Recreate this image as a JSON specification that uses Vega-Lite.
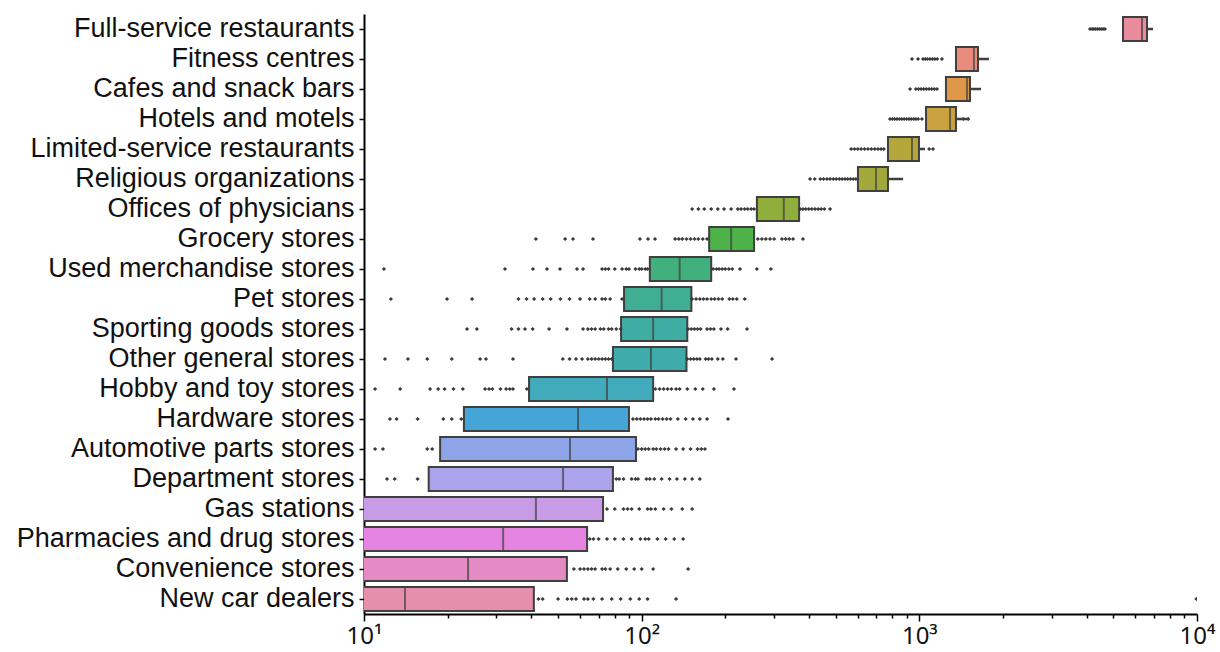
{
  "$schema": "https://vega.github.io/schema/vega-lite/v6.json",
  "width": 833,
  "height": 600,
  "autosize": {"type": "none"},
  "padding": {"left": 364, "top": 14, "right": 23, "bottom": 38},
  "background": "white",
  "config": {"view": {"stroke": null}, "font": "Liberation Sans"},
  "resolve": {"axis": {"x": "independent"}},
  "datasets": {
    "boxes": [
      {"cat": "Full-service restaurants", "lo": 5414, "q1": 5414, "med": 6338, "q3": 6606, "hi": 6943},
      {"cat": "Fitness centres", "lo": 1355, "q1": 1355, "med": 1573, "q3": 1627, "hi": 1781},
      {"cat": "Cafes and snack bars", "lo": 1247, "q1": 1247, "med": 1485, "q3": 1522, "hi": 1668},
      {"cat": "Hotels and motels", "lo": 1057, "q1": 1057, "med": 1290, "q3": 1355, "hi": 1509},
      {"cat": "Limited-service restaurants", "lo": 771, "q1": 771, "med": 941, "q3": 997, "hi": 1048},
      {"cat": "Religious organizations", "lo": 601, "q1": 601, "med": 698, "q3": 771, "hi": 874},
      {"cat": "Offices of physicians", "lo": 260, "q1": 260, "med": 325, "q3": 369, "hi": 369},
      {"cat": "Grocery stores", "lo": 175, "q1": 175, "med": 210, "q3": 254, "hi": 254},
      {"cat": "Used merchandise stores", "lo": 107, "q1": 107, "med": 137, "q3": 178, "hi": 178},
      {"cat": "Pet stores", "lo": 86.4, "q1": 86.4, "med": 118, "q3": 151, "hi": 151},
      {"cat": "Sporting goods stores", "lo": 84.3, "q1": 84.3, "med": 110, "q3": 146, "hi": 146},
      {"cat": "Other general stores", "lo": 78.8, "q1": 78.8, "med": 108, "q3": 145, "hi": 145},
      {"cat": "Hobby and toy stores", "lo": 39.3, "q1": 39.3, "med": 75, "q3": 110, "hi": 110},
      {"cat": "Hardware stores", "lo": 22.9, "q1": 22.9, "med": 59, "q3": 90, "hi": 90},
      {"cat": "Automotive parts stores", "lo": 18.8, "q1": 18.8, "med": 55.2, "q3": 95.4, "hi": 95.4},
      {"cat": "Department stores", "lo": 17.1, "q1": 17.1, "med": 52.1, "q3": 78.8, "hi": 78.8},
      {"cat": "Gas stations", "lo": 5, "q1": 5, "med": 41.6, "q3": 72.6, "hi": 72.6},
      {"cat": "Pharmacies and drug stores", "lo": 5, "q1": 5, "med": 31.7, "q3": 63.6, "hi": 63.6},
      {"cat": "Convenience stores", "lo": 5, "q1": 5, "med": 23.7, "q3": 53.8, "hi": 53.8},
      {"cat": "New car dealers", "lo": 5, "q1": 5, "med": 14.05, "q3": 40.9, "hi": 40.9}
    ],
    "fliers": [
      {"cat": "Full-service restaurants", "v": 4120}, {"cat": "Full-service restaurants", "v": 4190}, {"cat": "Full-service restaurants", "v": 4250}, {"cat": "Full-service restaurants", "v": 4310}, {"cat": "Full-service restaurants", "v": 4380}, {"cat": "Full-service restaurants", "v": 4450}, {"cat": "Full-service restaurants", "v": 4520}, {"cat": "Full-service restaurants", "v": 4590}, {"cat": "Full-service restaurants", "v": 4660},
      {"cat": "Fitness centres", "v": 941}, {"cat": "Fitness centres", "v": 989}, {"cat": "Fitness centres", "v": 1031}, {"cat": "Fitness centres", "v": 1050}, {"cat": "Fitness centres", "v": 1070}, {"cat": "Fitness centres", "v": 1092}, {"cat": "Fitness centres", "v": 1115}, {"cat": "Fitness centres", "v": 1137}, {"cat": "Fitness centres", "v": 1160}, {"cat": "Fitness centres", "v": 1206},
      {"cat": "Cafes and snack bars", "v": 926}, {"cat": "Cafes and snack bars", "v": 972}, {"cat": "Cafes and snack bars", "v": 993}, {"cat": "Cafes and snack bars", "v": 1015}, {"cat": "Cafes and snack bars", "v": 1037}, {"cat": "Cafes and snack bars", "v": 1060}, {"cat": "Cafes and snack bars", "v": 1084}, {"cat": "Cafes and snack bars", "v": 1108}, {"cat": "Cafes and snack bars", "v": 1132}, {"cat": "Cafes and snack bars", "v": 1158},
      {"cat": "Hotels and motels", "v": 784}, {"cat": "Hotels and motels", "v": 800}, {"cat": "Hotels and motels", "v": 815}, {"cat": "Hotels and motels", "v": 831}, {"cat": "Hotels and motels", "v": 848}, {"cat": "Hotels and motels", "v": 865}, {"cat": "Hotels and motels", "v": 882}, {"cat": "Hotels and motels", "v": 900}, {"cat": "Hotels and motels", "v": 918}, {"cat": "Hotels and motels", "v": 936}, {"cat": "Hotels and motels", "v": 955}, {"cat": "Hotels and motels", "v": 972}, {"cat": "Hotels and motels", "v": 990}, {"cat": "Hotels and motels", "v": 1022}, {"cat": "Hotels and motels", "v": 1440}, {"cat": "Hotels and motels", "v": 1500},
      {"cat": "Limited-service restaurants", "v": 568}, {"cat": "Limited-service restaurants", "v": 584}, {"cat": "Limited-service restaurants", "v": 600}, {"cat": "Limited-service restaurants", "v": 617}, {"cat": "Limited-service restaurants", "v": 635}, {"cat": "Limited-service restaurants", "v": 653}, {"cat": "Limited-service restaurants", "v": 672}, {"cat": "Limited-service restaurants", "v": 691}, {"cat": "Limited-service restaurants", "v": 710}, {"cat": "Limited-service restaurants", "v": 728}, {"cat": "Limited-service restaurants", "v": 745}, {"cat": "Limited-service restaurants", "v": 1085}, {"cat": "Limited-service restaurants", "v": 1120},
      {"cat": "Religious organizations", "v": 404}, {"cat": "Religious organizations", "v": 420}, {"cat": "Religious organizations", "v": 440}, {"cat": "Religious organizations", "v": 452}, {"cat": "Religious organizations", "v": 465}, {"cat": "Religious organizations", "v": 477}, {"cat": "Religious organizations", "v": 490}, {"cat": "Religious organizations", "v": 502}, {"cat": "Religious organizations", "v": 515}, {"cat": "Religious organizations", "v": 527}, {"cat": "Religious organizations", "v": 540}, {"cat": "Religious organizations", "v": 552}, {"cat": "Religious organizations", "v": 565}, {"cat": "Religious organizations", "v": 578}, {"cat": "Religious organizations", "v": 591},
      {"cat": "Offices of physicians", "v": 152}, {"cat": "Offices of physicians", "v": 160}, {"cat": "Offices of physicians", "v": 168}, {"cat": "Offices of physicians", "v": 178}, {"cat": "Offices of physicians", "v": 188}, {"cat": "Offices of physicians", "v": 198}, {"cat": "Offices of physicians", "v": 210}, {"cat": "Offices of physicians", "v": 222}, {"cat": "Offices of physicians", "v": 228}, {"cat": "Offices of physicians", "v": 235}, {"cat": "Offices of physicians", "v": 241}, {"cat": "Offices of physicians", "v": 248}, {"cat": "Offices of physicians", "v": 254}, {"cat": "Offices of physicians", "v": 372}, {"cat": "Offices of physicians", "v": 381}, {"cat": "Offices of physicians", "v": 390}, {"cat": "Offices of physicians", "v": 400}, {"cat": "Offices of physicians", "v": 410}, {"cat": "Offices of physicians", "v": 421}, {"cat": "Offices of physicians", "v": 432}, {"cat": "Offices of physicians", "v": 443}, {"cat": "Offices of physicians", "v": 455}, {"cat": "Offices of physicians", "v": 477},
      {"cat": "Grocery stores", "v": 41.6}, {"cat": "Grocery stores", "v": 53}, {"cat": "Grocery stores", "v": 56.6}, {"cat": "Grocery stores", "v": 66.8}, {"cat": "Grocery stores", "v": 98.6}, {"cat": "Grocery stores", "v": 105.4}, {"cat": "Grocery stores", "v": 111.7}, {"cat": "Grocery stores", "v": 132}, {"cat": "Grocery stores", "v": 136}, {"cat": "Grocery stores", "v": 140}, {"cat": "Grocery stores", "v": 145}, {"cat": "Grocery stores", "v": 150}, {"cat": "Grocery stores", "v": 155}, {"cat": "Grocery stores", "v": 160}, {"cat": "Grocery stores", "v": 166}, {"cat": "Grocery stores", "v": 172}, {"cat": "Grocery stores", "v": 262}, {"cat": "Grocery stores", "v": 271}, {"cat": "Grocery stores", "v": 280}, {"cat": "Grocery stores", "v": 290}, {"cat": "Grocery stores", "v": 300}, {"cat": "Grocery stores", "v": 320}, {"cat": "Grocery stores", "v": 330}, {"cat": "Grocery stores", "v": 340}, {"cat": "Grocery stores", "v": 351}, {"cat": "Grocery stores", "v": 381},
      {"cat": "Used merchandise stores", "v": 11.8}, {"cat": "Used merchandise stores", "v": 32.2}, {"cat": "Used merchandise stores", "v": 40.6}, {"cat": "Used merchandise stores", "v": 45.6}, {"cat": "Used merchandise stores", "v": 50.8}, {"cat": "Used merchandise stores", "v": 58.5}, {"cat": "Used merchandise stores", "v": 61.5}, {"cat": "Used merchandise stores", "v": 72}, {"cat": "Used merchandise stores", "v": 74}, {"cat": "Used merchandise stores", "v": 76}, {"cat": "Used merchandise stores", "v": 80}, {"cat": "Used merchandise stores", "v": 85}, {"cat": "Used merchandise stores", "v": 88}, {"cat": "Used merchandise stores", "v": 90}, {"cat": "Used merchandise stores", "v": 95}, {"cat": "Used merchandise stores", "v": 98}, {"cat": "Used merchandise stores", "v": 100}, {"cat": "Used merchandise stores", "v": 103}, {"cat": "Used merchandise stores", "v": 105}, {"cat": "Used merchandise stores", "v": 181}, {"cat": "Used merchandise stores", "v": 186}, {"cat": "Used merchandise stores", "v": 190}, {"cat": "Used merchandise stores", "v": 195}, {"cat": "Used merchandise stores", "v": 200}, {"cat": "Used merchandise stores", "v": 206}, {"cat": "Used merchandise stores", "v": 212}, {"cat": "Used merchandise stores", "v": 226}, {"cat": "Used merchandise stores", "v": 260}, {"cat": "Used merchandise stores", "v": 292},
      {"cat": "Pet stores", "v": 12.5}, {"cat": "Pet stores", "v": 19.9}, {"cat": "Pet stores", "v": 24.5}, {"cat": "Pet stores", "v": 36}, {"cat": "Pet stores", "v": 38.5}, {"cat": "Pet stores", "v": 41}, {"cat": "Pet stores", "v": 44}, {"cat": "Pet stores", "v": 47}, {"cat": "Pet stores", "v": 51}, {"cat": "Pet stores", "v": 55}, {"cat": "Pet stores", "v": 60}, {"cat": "Pet stores", "v": 65}, {"cat": "Pet stores", "v": 68}, {"cat": "Pet stores", "v": 72}, {"cat": "Pet stores", "v": 74}, {"cat": "Pet stores", "v": 77}, {"cat": "Pet stores", "v": 85}, {"cat": "Pet stores", "v": 152}, {"cat": "Pet stores", "v": 157}, {"cat": "Pet stores", "v": 162}, {"cat": "Pet stores", "v": 167}, {"cat": "Pet stores", "v": 172}, {"cat": "Pet stores", "v": 178}, {"cat": "Pet stores", "v": 183}, {"cat": "Pet stores", "v": 189}, {"cat": "Pet stores", "v": 195}, {"cat": "Pet stores", "v": 207}, {"cat": "Pet stores", "v": 213}, {"cat": "Pet stores", "v": 220}, {"cat": "Pet stores", "v": 235},
      {"cat": "Sporting goods stores", "v": 23.5}, {"cat": "Sporting goods stores", "v": 25.5}, {"cat": "Sporting goods stores", "v": 34}, {"cat": "Sporting goods stores", "v": 36}, {"cat": "Sporting goods stores", "v": 38}, {"cat": "Sporting goods stores", "v": 40.5}, {"cat": "Sporting goods stores", "v": 46.4}, {"cat": "Sporting goods stores", "v": 53.8}, {"cat": "Sporting goods stores", "v": 61.5}, {"cat": "Sporting goods stores", "v": 64}, {"cat": "Sporting goods stores", "v": 66}, {"cat": "Sporting goods stores", "v": 68}, {"cat": "Sporting goods stores", "v": 71}, {"cat": "Sporting goods stores", "v": 73}, {"cat": "Sporting goods stores", "v": 76}, {"cat": "Sporting goods stores", "v": 78}, {"cat": "Sporting goods stores", "v": 81}, {"cat": "Sporting goods stores", "v": 84}, {"cat": "Sporting goods stores", "v": 147}, {"cat": "Sporting goods stores", "v": 151}, {"cat": "Sporting goods stores", "v": 155}, {"cat": "Sporting goods stores", "v": 159}, {"cat": "Sporting goods stores", "v": 163}, {"cat": "Sporting goods stores", "v": 172}, {"cat": "Sporting goods stores", "v": 177}, {"cat": "Sporting goods stores", "v": 182}, {"cat": "Sporting goods stores", "v": 193}, {"cat": "Sporting goods stores", "v": 204}, {"cat": "Sporting goods stores", "v": 239.5},
      {"cat": "Other general stores", "v": 11.9}, {"cat": "Other general stores", "v": 14.4}, {"cat": "Other general stores", "v": 16.9}, {"cat": "Other general stores", "v": 20.7}, {"cat": "Other general stores", "v": 26.2}, {"cat": "Other general stores", "v": 27.5}, {"cat": "Other general stores", "v": 34.4}, {"cat": "Other general stores", "v": 52}, {"cat": "Other general stores", "v": 55}, {"cat": "Other general stores", "v": 58}, {"cat": "Other general stores", "v": 61}, {"cat": "Other general stores", "v": 64}, {"cat": "Other general stores", "v": 66}, {"cat": "Other general stores", "v": 68}, {"cat": "Other general stores", "v": 70}, {"cat": "Other general stores", "v": 72}, {"cat": "Other general stores", "v": 74}, {"cat": "Other general stores", "v": 76}, {"cat": "Other general stores", "v": 78}, {"cat": "Other general stores", "v": 146}, {"cat": "Other general stores", "v": 150}, {"cat": "Other general stores", "v": 154}, {"cat": "Other general stores", "v": 158}, {"cat": "Other general stores", "v": 162}, {"cat": "Other general stores", "v": 170}, {"cat": "Other general stores", "v": 174}, {"cat": "Other general stores", "v": 179}, {"cat": "Other general stores", "v": 188}, {"cat": "Other general stores", "v": 196}, {"cat": "Other general stores", "v": 218.7}, {"cat": "Other general stores", "v": 294.8},
      {"cat": "Hobby and toy stores", "v": 10.96}, {"cat": "Hobby and toy stores", "v": 13.5}, {"cat": "Hobby and toy stores", "v": 17.3}, {"cat": "Hobby and toy stores", "v": 18.5}, {"cat": "Hobby and toy stores", "v": 19.5}, {"cat": "Hobby and toy stores", "v": 21}, {"cat": "Hobby and toy stores", "v": 22.7}, {"cat": "Hobby and toy stores", "v": 27.3}, {"cat": "Hobby and toy stores", "v": 28.2}, {"cat": "Hobby and toy stores", "v": 29}, {"cat": "Hobby and toy stores", "v": 31}, {"cat": "Hobby and toy stores", "v": 32.5}, {"cat": "Hobby and toy stores", "v": 33.5}, {"cat": "Hobby and toy stores", "v": 34.4}, {"cat": "Hobby and toy stores", "v": 38.6}, {"cat": "Hobby and toy stores", "v": 112}, {"cat": "Hobby and toy stores", "v": 116}, {"cat": "Hobby and toy stores", "v": 120}, {"cat": "Hobby and toy stores", "v": 124}, {"cat": "Hobby and toy stores", "v": 128}, {"cat": "Hobby and toy stores", "v": 133}, {"cat": "Hobby and toy stores", "v": 137}, {"cat": "Hobby and toy stores", "v": 146}, {"cat": "Hobby and toy stores", "v": 156}, {"cat": "Hobby and toy stores", "v": 166}, {"cat": "Hobby and toy stores", "v": 182}, {"cat": "Hobby and toy stores", "v": 215},
      {"cat": "Hardware stores", "v": 12.4}, {"cat": "Hardware stores", "v": 13.1}, {"cat": "Hardware stores", "v": 15.6}, {"cat": "Hardware stores", "v": 19.3}, {"cat": "Hardware stores", "v": 20.7}, {"cat": "Hardware stores", "v": 22.4}, {"cat": "Hardware stores", "v": 93}, {"cat": "Hardware stores", "v": 96}, {"cat": "Hardware stores", "v": 99}, {"cat": "Hardware stores", "v": 102}, {"cat": "Hardware stores", "v": 105}, {"cat": "Hardware stores", "v": 108}, {"cat": "Hardware stores", "v": 112}, {"cat": "Hardware stores", "v": 115}, {"cat": "Hardware stores", "v": 119}, {"cat": "Hardware stores", "v": 123}, {"cat": "Hardware stores", "v": 127}, {"cat": "Hardware stores", "v": 135}, {"cat": "Hardware stores", "v": 144}, {"cat": "Hardware stores", "v": 153}, {"cat": "Hardware stores", "v": 162}, {"cat": "Hardware stores", "v": 172}, {"cat": "Hardware stores", "v": 204.6},
      {"cat": "Automotive parts stores", "v": 10.96}, {"cat": "Automotive parts stores", "v": 11.7}, {"cat": "Automotive parts stores", "v": 16.9}, {"cat": "Automotive parts stores", "v": 17.6}, {"cat": "Automotive parts stores", "v": 97}, {"cat": "Automotive parts stores", "v": 100}, {"cat": "Automotive parts stores", "v": 103}, {"cat": "Automotive parts stores", "v": 106}, {"cat": "Automotive parts stores", "v": 110}, {"cat": "Automotive parts stores", "v": 113}, {"cat": "Automotive parts stores", "v": 117}, {"cat": "Automotive parts stores", "v": 121}, {"cat": "Automotive parts stores", "v": 125}, {"cat": "Automotive parts stores", "v": 133}, {"cat": "Automotive parts stores", "v": 141}, {"cat": "Automotive parts stores", "v": 150}, {"cat": "Automotive parts stores", "v": 159}, {"cat": "Automotive parts stores", "v": 164}, {"cat": "Automotive parts stores", "v": 169},
      {"cat": "Department stores", "v": 12.1}, {"cat": "Department stores", "v": 12.9}, {"cat": "Department stores", "v": 15.6}, {"cat": "Department stores", "v": 81}, {"cat": "Department stores", "v": 83}, {"cat": "Department stores", "v": 86}, {"cat": "Department stores", "v": 92}, {"cat": "Department stores", "v": 95}, {"cat": "Department stores", "v": 97}, {"cat": "Department stores", "v": 104}, {"cat": "Department stores", "v": 107}, {"cat": "Department stores", "v": 111}, {"cat": "Department stores", "v": 118}, {"cat": "Department stores", "v": 126}, {"cat": "Department stores", "v": 134}, {"cat": "Department stores", "v": 143}, {"cat": "Department stores", "v": 152}, {"cat": "Department stores", "v": 162},
      {"cat": "Gas stations", "v": 75}, {"cat": "Gas stations", "v": 80}, {"cat": "Gas stations", "v": 86}, {"cat": "Gas stations", "v": 89}, {"cat": "Gas stations", "v": 92}, {"cat": "Gas stations", "v": 98}, {"cat": "Gas stations", "v": 105}, {"cat": "Gas stations", "v": 108}, {"cat": "Gas stations", "v": 112}, {"cat": "Gas stations", "v": 120}, {"cat": "Gas stations", "v": 128}, {"cat": "Gas stations", "v": 140}, {"cat": "Gas stations", "v": 152},
      {"cat": "Pharmacies and drug stores", "v": 65}, {"cat": "Pharmacies and drug stores", "v": 67}, {"cat": "Pharmacies and drug stores", "v": 70}, {"cat": "Pharmacies and drug stores", "v": 75}, {"cat": "Pharmacies and drug stores", "v": 80}, {"cat": "Pharmacies and drug stores", "v": 86}, {"cat": "Pharmacies and drug stores", "v": 92}, {"cat": "Pharmacies and drug stores", "v": 99}, {"cat": "Pharmacies and drug stores", "v": 103}, {"cat": "Pharmacies and drug stores", "v": 106}, {"cat": "Pharmacies and drug stores", "v": 114}, {"cat": "Pharmacies and drug stores", "v": 122}, {"cat": "Pharmacies and drug stores", "v": 131}, {"cat": "Pharmacies and drug stores", "v": 141},
      {"cat": "Convenience stores", "v": 57}, {"cat": "Convenience stores", "v": 60}, {"cat": "Convenience stores", "v": 62}, {"cat": "Convenience stores", "v": 64}, {"cat": "Convenience stores", "v": 66}, {"cat": "Convenience stores", "v": 68}, {"cat": "Convenience stores", "v": 72}, {"cat": "Convenience stores", "v": 74}, {"cat": "Convenience stores", "v": 77}, {"cat": "Convenience stores", "v": 82}, {"cat": "Convenience stores", "v": 88}, {"cat": "Convenience stores", "v": 94}, {"cat": "Convenience stores", "v": 100}, {"cat": "Convenience stores", "v": 110}, {"cat": "Convenience stores", "v": 147},
      {"cat": "New car dealers", "v": 42.5}, {"cat": "New car dealers", "v": 44}, {"cat": "New car dealers", "v": 50}, {"cat": "New car dealers", "v": 54}, {"cat": "New car dealers", "v": 56}, {"cat": "New car dealers", "v": 58}, {"cat": "New car dealers", "v": 62}, {"cat": "New car dealers", "v": 64}, {"cat": "New car dealers", "v": 67}, {"cat": "New car dealers", "v": 72}, {"cat": "New car dealers", "v": 78}, {"cat": "New car dealers", "v": 84}, {"cat": "New car dealers", "v": 91}, {"cat": "New car dealers", "v": 98}, {"cat": "New car dealers", "v": 105}, {"cat": "New car dealers", "v": 133}, {"cat": "New car dealers", "v": 9950}
    ]
  },
  "encoding": {
    "y": {
      "field": "cat",
      "type": "nominal",
      "sort": ["Full-service restaurants", "Fitness centres", "Cafes and snack bars", "Hotels and motels", "Limited-service restaurants", "Religious organizations", "Offices of physicians", "Grocery stores", "Used merchandise stores", "Pet stores", "Sporting goods stores", "Other general stores", "Hobby and toy stores", "Hardware stores", "Automotive parts stores", "Department stores", "Gas stations", "Pharmacies and drug stores", "Convenience stores", "New car dealers"],
      "scale": {"paddingInner": 0, "paddingOuter": 0},
      "axis": {
        "title": null,
        "domainColor": "#000000",
        "domainWidth": 2,
        "tickColor": "#000000",
        "tickWidth": 1.5,
        "tickSize": 5,
        "labelFontSize": 27,
        "labelColor": "#111111",
        "labelPadding": 5,
        "labelLimit": 0,
        "grid": false
      }
    }
  },
  "layer": [
    {
      "data": {"name": "boxes"},
      "mark": {"type": "rule", "color": "#3f3f3f", "strokeWidth": 2.5, "clip": true},
      "encoding": {
        "x": {
          "field": "lo",
          "type": "quantitative",
          "scale": {"type": "log", "domain": [10, 10000], "nice": false},
          "axis": {
            "title": null,
            "orient": "bottom",
            "values": [10, 100, 1000, 10000],
            "labelExpr": "datum.value == 10 ? '10¹' : datum.value == 100 ? '10²' : datum.value == 1000 ? '10³' : '10⁴'",
            "tickSize": 7,
            "tickColor": "#000000",
            "tickWidth": 1.5,
            "domainColor": "#000000",
            "domainWidth": 2,
            "labelFont": "Noto Sans",
            "labelFontSize": 24,
            "labelColor": "#111111",
            "labelPadding": 3,
            "labelFlush": false,
            "labelOverlap": false,
            "grid": false
          }
        },
        "x2": {"field": "q1"}
      }
    },
    {
      "data": {"name": "boxes"},
      "mark": {"type": "rule", "color": "#3f3f3f", "strokeWidth": 2.5, "clip": true},
      "encoding": {
        "x": {
          "field": "q3",
          "type": "quantitative",
          "axis": {
            "title": null,
            "orient": "bottom",
            "values": [20, 30, 40, 50, 60, 70, 80, 90, 200, 300, 400, 500, 600, 700, 800, 900, 2000, 3000, 4000, 5000, 6000, 7000, 8000, 9000],
            "labels": false,
            "domain": false,
            "tickSize": 4,
            "tickColor": "#000000",
            "tickWidth": 1.5,
            "grid": false
          }
        },
        "x2": {"field": "hi"}
      }
    },
    {
      "data": {"name": "boxes"},
      "mark": {"type": "bar", "size": 24, "stroke": "#3f3f3f", "strokeWidth": 2, "clip": true},
      "encoding": {
        "x": {"field": "q1", "type": "quantitative", "axis": null},
        "x2": {"field": "q3"},
        "color": {
          "field": "cat",
          "type": "nominal",
          "legend": null,
          "scale": {
            "domain": ["Full-service restaurants", "Fitness centres", "Cafes and snack bars", "Hotels and motels", "Limited-service restaurants", "Religious organizations", "Offices of physicians", "Grocery stores", "Used merchandise stores", "Pet stores", "Sporting goods stores", "Other general stores", "Hobby and toy stores", "Hardware stores", "Automotive parts stores", "Department stores", "Gas stations", "Pharmacies and drug stores", "Convenience stores", "New car dealers"],
            "range": ["#e88b9c", "#e98b7c", "#de9848", "#c9a23f", "#b5a63c", "#a2a93a", "#8fae3c", "#4db247", "#41b07c", "#40ae93", "#3fada2", "#3fabab", "#41aabb", "#45a5d6", "#8da4e6", "#aca3ec", "#c89be6", "#e583e0", "#e58bc3", "#e68fac"]
          }
        }
      }
    },
    {
      "data": {"name": "boxes"},
      "mark": {"type": "tick", "orient": "vertical", "size": 24, "thickness": 2, "color": "#3f3f3f"},
      "encoding": {
        "x": {"field": "med", "type": "quantitative", "axis": null}
      }
    },
    {
      "data": {"name": "fliers"},
      "mark": {"type": "point", "shape": "diamond", "filled": true, "size": 18, "color": "#3a3a3a", "opacity": 1, "clip": true},
      "encoding": {
        "x": {"field": "v", "type": "quantitative", "axis": null}
      }
    }
  ]
}
